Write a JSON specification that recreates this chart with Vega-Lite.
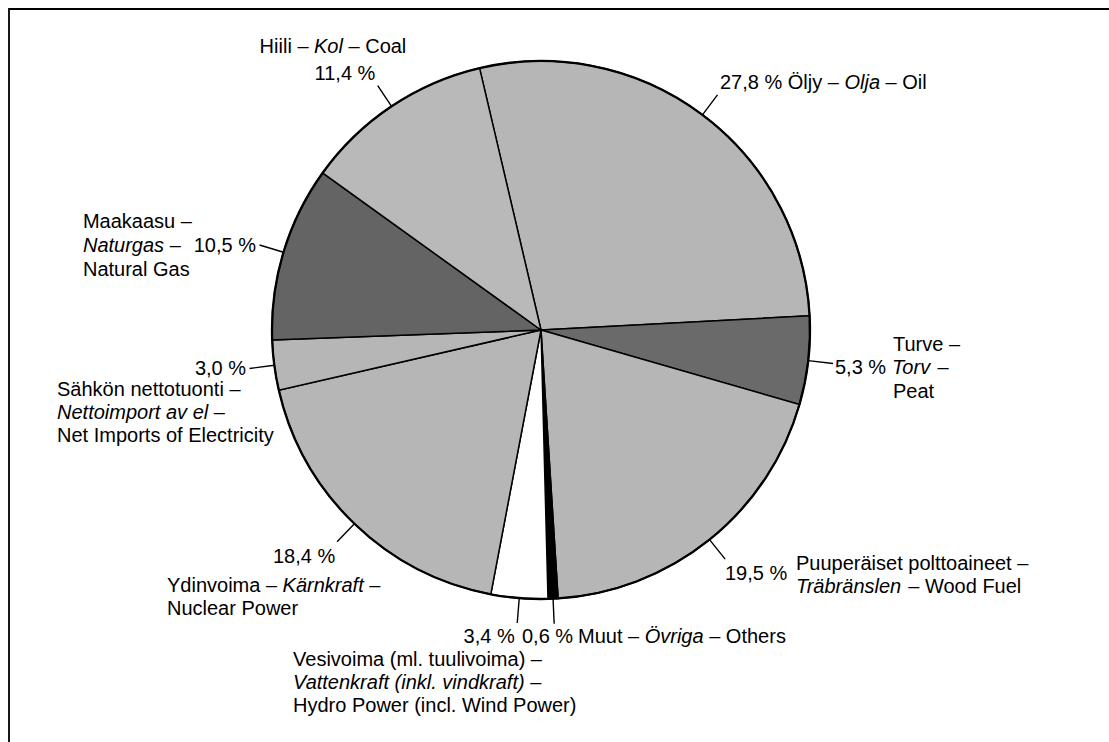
{
  "$schema": "https://vega.github.io/schema/vega-lite/v6.json",
  "width": 1100,
  "height": 733,
  "autosize": {"type": "none"},
  "padding": {"left": 9, "top": 9, "right": 0, "bottom": 0},
  "background": "white",
  "config": {
    "view": {"stroke": null},
    "locale": {"number": {"decimal": ",", "thousands": " ", "grouping": [3], "currency": ["", " €"], "percent": " %"}},
    "text": {"font": "Liberation Sans", "fontSize": 20, "baseline": "alphabetic", "align": "left", "color": "black"}
  },
  "layer": [
    {"data": {"values": [{}]},
     "mark": {"type": "rect", "x": 0, "y": 0, "x2": 1120, "y2": 750, "filled": false, "stroke": "black", "strokeWidth": 1.8}},
    {"data": {"values": [
      {"energy": "Oil", "share": 0.278},
      {"energy": "Peat", "share": 0.053},
      {"energy": "Wood Fuel", "share": 0.195},
      {"energy": "Others", "share": 0.006},
      {"energy": "Hydro Power", "share": 0.034},
      {"energy": "Nuclear Power", "share": 0.184},
      {"energy": "Net Imports", "share": 0.030},
      {"energy": "Natural Gas", "share": 0.105},
      {"energy": "Coal", "share": 0.114}
     ]},
     "transform": [{"window": [{"op": "row_number", "as": "i"}]}],
     "encoding": {
       "theta": {"field": "share", "type": "quantitative", "stack": true, "scale": {"range": [-0.2304, 6.0528]}},
       "order": {"field": "i", "type": "quantitative"},
       "detail": {"field": "energy", "type": "nominal"}
     },
     "layer": [
    {"mark": {"type": "arc", "x": 532, "y": 321, "radius": 269, "stroke": "black", "strokeWidth": 1.5},
     "encoding": {"color": {"field": "energy", "type": "nominal", "legend": null,
       "scale": {"domain": ["Oil", "Peat", "Wood Fuel", "Others", "Hydro Power", "Nuclear Power", "Net Imports", "Natural Gas", "Coal"],
                 "range": ["#b6b6b6", "#6a6a6a", "#b6b6b6", "#000000", "#ffffff", "#b6b6b6", "#b6b6b6", "#646464", "#b9b9b9"]}}}},
    {"mark": {"type": "arc", "x": 532, "y": 321, "radius": 269, "radius2": 269, "filled": false, "stroke": "black", "strokeWidth": 2.3}},
    {"mark": {"type": "arc", "x": 532, "y": 321, "radius": 294, "radius2": 269, "padAngle": 3.14, "filled": false, "stroke": "black", "strokeWidth": 1.4}},

    {"mark": {"type": "text", "x": 532, "y": 321, "radius": 294, "dx": -118.1, "dy": -32.5}, "encoding": {"text": {"condition": {"test": "datum.energy==='Coal'", "value": "Hiili –"}, "value": ""}}},
    {"mark": {"type": "text", "x": 532, "y": 321, "radius": 294, "dx": -63.7, "dy": -32.5, "fontStyle": "italic"}, "encoding": {"text": {"condition": {"test": "datum.energy==='Coal'", "value": "Kol"}, "value": ""}}},
    {"mark": {"type": "text", "x": 532, "y": 321, "radius": 294, "dx": -29.2, "dy": -32.5}, "encoding": {"text": {"condition": {"test": "datum.energy==='Coal'", "value": "– Coal"}, "value": ""}}},
    {"mark": {"type": "text", "x": 532, "y": 321, "radius": 294, "dx": -32.7, "dy": -5.5, "align": "center"}, "encoding": {"text": {"condition": {"test": "datum.energy==='Coal'", "field": "share", "type": "quantitative", "format": ".1%"}, "value": ""}}},

    {"mark": {"type": "text", "x": 532, "y": 321, "radius": 294, "dx": 2.5, "dy": -5.9}, "encoding": {"text": {"condition": {"test": "datum.energy==='Oil'", "field": "share", "type": "quantitative", "format": ".1%"}, "value": ""}}},
    {"mark": {"type": "text", "x": 532, "y": 321, "radius": 294, "dx": 70.3, "dy": -5.9}, "encoding": {"text": {"condition": {"test": "datum.energy==='Oil'", "value": "Öljy –"}, "value": ""}}},
    {"mark": {"type": "text", "x": 532, "y": 321, "radius": 294, "dx": 127.0, "dy": -5.9, "fontStyle": "italic"}, "encoding": {"text": {"condition": {"test": "datum.energy==='Oil'", "value": "Olja"}, "value": ""}}},
    {"mark": {"type": "text", "x": 532, "y": 321, "radius": 294, "dx": 168.1, "dy": -5.9}, "encoding": {"text": {"condition": {"test": "datum.energy==='Oil'", "value": "– Oil"}, "value": ""}}},

    {"mark": {"type": "text", "x": 532, "y": 321, "radius": 294, "dx": -176.6, "dy": -17}, "encoding": {"text": {"condition": {"test": "datum.energy==='Natural Gas'", "value": "Maakaasu –"}, "value": ""}}},
    {"mark": {"type": "text", "x": 532, "y": 321, "radius": 294, "dx": -176.6, "dy": 7, "fontStyle": "italic"}, "encoding": {"text": {"condition": {"test": "datum.energy==='Natural Gas'", "value": "Naturgas"}, "value": ""}}},
    {"mark": {"type": "text", "x": 532, "y": 321, "radius": 294, "dx": -89.9, "dy": 7}, "encoding": {"text": {"condition": {"test": "datum.energy==='Natural Gas'", "value": "–"}, "value": ""}}},
    {"mark": {"type": "text", "x": 532, "y": 321, "radius": 294, "dx": -3.6, "dy": 7, "align": "right"}, "encoding": {"text": {"condition": {"test": "datum.energy==='Natural Gas'", "field": "share", "type": "quantitative", "format": ".1%"}, "value": ""}}},
    {"mark": {"type": "text", "x": 532, "y": 321, "radius": 294, "dx": -176.6, "dy": 31}, "encoding": {"text": {"condition": {"test": "datum.energy==='Natural Gas'", "value": "Natural Gas"}, "value": ""}}},

    {"mark": {"type": "text", "x": 532, "y": 321, "radius": 294, "dx": 1.9, "dy": 10.6}, "encoding": {"text": {"condition": {"test": "datum.energy==='Peat'", "field": "share", "type": "quantitative", "format": ".1%"}, "value": ""}}},
    {"mark": {"type": "text", "x": 532, "y": 321, "radius": 294, "dx": 58.9, "dy": 10.6, "fontStyle": "italic"}, "encoding": {"text": {"condition": {"test": "datum.energy==='Peat'", "value": "Torv"}, "value": ""}}},
    {"mark": {"type": "text", "x": 532, "y": 321, "radius": 294, "dx": 104.5, "dy": 10.6}, "encoding": {"text": {"condition": {"test": "datum.energy==='Peat'", "value": "–"}, "value": ""}}},
    {"mark": {"type": "text", "x": 532, "y": 321, "radius": 294, "dx": 59.9, "dy": -12.4}, "encoding": {"text": {"condition": {"test": "datum.energy==='Peat'", "value": "Turve –"}, "value": ""}}},
    {"mark": {"type": "text", "x": 532, "y": 321, "radius": 294, "dx": 59.9, "dy": 34.6}, "encoding": {"text": {"condition": {"test": "datum.energy==='Peat'", "value": "Peat"}, "value": ""}}},

    {"mark": {"type": "text", "x": 532, "y": 321, "radius": 294, "dx": -0.2, "dy": 20.8}, "encoding": {"text": {"condition": {"test": "datum.energy==='Wood Fuel'", "field": "share", "type": "quantitative", "format": ".1%"}, "value": ""}}},
    {"mark": {"type": "text", "x": 532, "y": 321, "radius": 294, "dx": 70.8, "dy": 10.8}, "encoding": {"text": {"condition": {"test": "datum.energy==='Wood Fuel'", "value": "Puuperäiset polttoaineet –"}, "value": ""}}},
    {"mark": {"type": "text", "x": 532, "y": 321, "radius": 294, "dx": 70.8, "dy": 33.8, "fontStyle": "italic"}, "encoding": {"text": {"condition": {"test": "datum.energy==='Wood Fuel'", "value": "Träbränslen"}, "value": ""}}},
    {"mark": {"type": "text", "x": 532, "y": 321, "radius": 294, "dx": 183.1, "dy": 33.8}, "encoding": {"text": {"condition": {"test": "datum.energy==='Wood Fuel'", "value": "– Wood Fuel"}, "value": ""}}},

    {"mark": {"type": "text", "x": 532, "y": 321, "radius": 294, "dx": -32.2, "dy": 19.3}, "encoding": {"text": {"condition": {"test": "datum.energy==='Others'", "field": "share", "type": "quantitative", "format": ".1%"}, "value": ""}}},
    {"mark": {"type": "text", "x": 532, "y": 321, "radius": 294, "dx": 23.8, "dy": 19.3}, "encoding": {"text": {"condition": {"test": "datum.energy==='Others'", "value": "Muut –"}, "value": ""}}},
    {"mark": {"type": "text", "x": 532, "y": 321, "radius": 294, "dx": 90.5, "dy": 19.3, "fontStyle": "italic"}, "encoding": {"text": {"condition": {"test": "datum.energy==='Others'", "value": "Övriga"}, "value": ""}}},
    {"mark": {"type": "text", "x": 532, "y": 321, "radius": 294, "dx": 155.0, "dy": 19.3}, "encoding": {"text": {"condition": {"test": "datum.energy==='Others'", "value": "– Others"}, "value": ""}}},

    {"mark": {"type": "text", "x": 532, "y": 321, "radius": 294, "dx": -53.7, "dy": 20}, "encoding": {"text": {"condition": {"test": "datum.energy==='Hydro Power'", "field": "share", "type": "quantitative", "format": ".1%"}, "value": ""}}},
    {"mark": {"type": "text", "x": 532, "y": 321, "radius": 294, "dx": -224.2, "dy": 43}, "encoding": {"text": {"condition": {"test": "datum.energy==='Hydro Power'", "value": "Vesivoima (ml. tuulivoima) –"}, "value": ""}}},
    {"mark": {"type": "text", "x": 532, "y": 321, "radius": 294, "dx": -224.2, "dy": 66, "fontStyle": "italic"}, "encoding": {"text": {"condition": {"test": "datum.energy==='Hydro Power'", "value": "Vattenkraft (inkl. vindkraft) –"}, "value": ""}}},
    {"mark": {"type": "text", "x": 532, "y": 321, "radius": 294, "dx": -224.2, "dy": 89}, "encoding": {"text": {"condition": {"test": "datum.energy==='Hydro Power'", "value": "Hydro Power (incl. Wind Power)"}, "value": ""}}},

    {"mark": {"type": "text", "x": 532, "y": 321, "radius": 294, "dx": -64.1, "dy": 21.2}, "encoding": {"text": {"condition": {"test": "datum.energy==='Nuclear Power'", "field": "share", "type": "quantitative", "format": ".1%"}, "value": ""}}},
    {"mark": {"type": "text", "x": 532, "y": 321, "radius": 294, "dx": -170.1, "dy": 50.2}, "encoding": {"text": {"condition": {"test": "datum.energy==='Nuclear Power'", "value": "Ydinvoima –"}, "value": ""}}},
    {"mark": {"type": "text", "x": 532, "y": 321, "radius": 294, "dx": -54.5, "dy": 50.2, "fontStyle": "italic"}, "encoding": {"text": {"condition": {"test": "datum.energy==='Nuclear Power'", "value": "Kärnkraft"}, "value": ""}}},
    {"mark": {"type": "text", "x": 532, "y": 321, "radius": 294, "dx": 32.2, "dy": 50.2}, "encoding": {"text": {"condition": {"test": "datum.energy==='Nuclear Power'", "value": "–"}, "value": ""}}},
    {"mark": {"type": "text", "x": 532, "y": 321, "radius": 294, "dx": -170.1, "dy": 73.2}, "encoding": {"text": {"condition": {"test": "datum.energy==='Nuclear Power'", "value": "Nuclear Power"}, "value": ""}}},

    {"mark": {"type": "text", "x": 532, "y": 321, "radius": 294, "dx": -3.5, "dy": 6.5, "align": "right"}, "encoding": {"text": {"condition": {"test": "datum.energy==='Net Imports'", "field": "share", "type": "quantitative", "format": ".1%"}, "value": ""}}},
    {"mark": {"type": "text", "x": 532, "y": 321, "radius": 294, "dx": -192.5, "dy": 27}, "encoding": {"text": {"condition": {"test": "datum.energy==='Net Imports'", "value": "Sähkön nettotuonti –"}, "value": ""}}},
    {"mark": {"type": "text", "x": 532, "y": 321, "radius": 294, "dx": -192.5, "dy": 50, "fontStyle": "italic"}, "encoding": {"text": {"condition": {"test": "datum.energy==='Net Imports'", "value": "Nettoimport av el –"}, "value": ""}}},
    {"mark": {"type": "text", "x": 532, "y": 321, "radius": 294, "dx": -192.5, "dy": 73.5}, "encoding": {"text": {"condition": {"test": "datum.energy==='Net Imports'", "value": "Net Imports of Electricity"}, "value": ""}}}
     ]
    }
  ]
}
